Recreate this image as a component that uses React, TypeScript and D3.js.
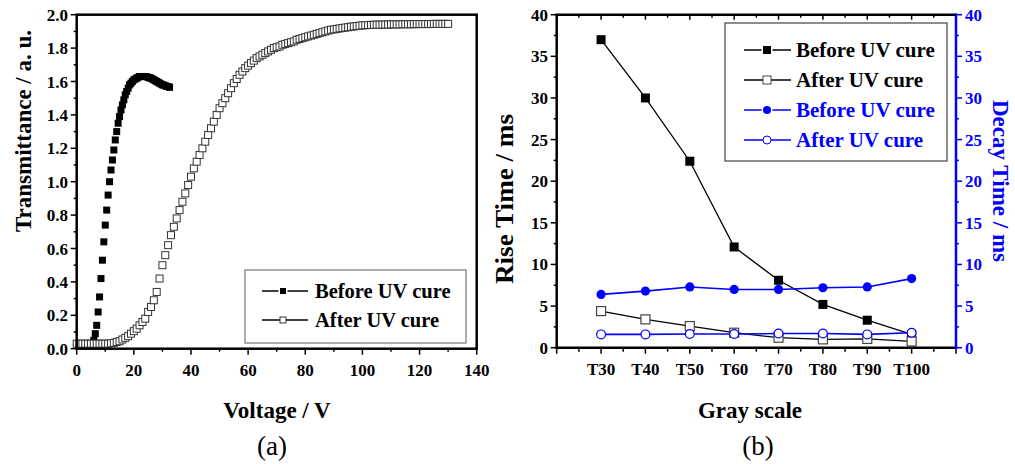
import React from 'react'
import * as d3 from 'd3'

const W = 1015
const H = 464
const FONT = '"Liberation Serif", "Times New Roman", serif'
const BLUE = '#0000ff'

// (a) transmittance vs voltage, [V, T]
const beforeCure: [number, number][] = [
  [0, 0.03], [0.5, 0.03], [1, 0.03], [1.5, 0.03], [2, 0.03], [2.5, 0.03], [3, 0.03], [3.5, 0.03],
  [4, 0.03], [4.5, 0.03], [5, 0.03], [5.5, 0.03], [6, 0.05], [6.5, 0.09], [7, 0.14], [7.5, 0.22],
  [8, 0.31], [8.5, 0.42], [9, 0.53], [9.5, 0.64], [10, 0.74], [10.5, 0.83], [11, 0.92], [11.5, 1.0],
  [12, 1.07], [12.5, 1.13], [13, 1.19], [13.5, 1.25], [14, 1.3], [14.5, 1.35], [15, 1.39], [15.5, 1.43],
  [16, 1.46], [16.5, 1.49], [17, 1.52], [17.5, 1.54], [18, 1.56], [18.5, 1.58], [19, 1.59], [19.5, 1.6],
  [20, 1.61], [20.5, 1.615], [21, 1.62], [21.5, 1.625], [22, 1.63], [22.5, 1.63], [23, 1.63], [23.5, 1.63],
  [24, 1.63], [24.5, 1.628], [25, 1.625], [25.5, 1.622], [26, 1.62], [26.5, 1.615], [27, 1.61], [27.5, 1.605],
  [28, 1.6], [28.5, 1.595], [29, 1.59], [29.5, 1.585], [30, 1.58], [30.5, 1.578], [31, 1.575], [31.5, 1.57],
  [32, 1.57], [32.5, 1.565],
]

const afterCure: [number, number][] = [
  [0, 0.03], [1, 0.03], [2, 0.03], [3, 0.03], [4, 0.03], [5, 0.03], [6, 0.03], [7, 0.03], [8, 0.03],
  [9, 0.03], [10, 0.03], [11, 0.03], [12, 0.032], [13, 0.035], [14, 0.04], [15, 0.045], [16, 0.055],
  [17, 0.065], [18, 0.075], [19, 0.09], [20, 0.105], [21, 0.12], [22, 0.14], [23, 0.16], [24, 0.18],
  [25, 0.22], [26, 0.25], [27, 0.29], [28, 0.34], [29, 0.42], [30, 0.5], [31, 0.56], [32, 0.62],
  [33, 0.68], [34, 0.73], [35, 0.78], [36, 0.83], [37, 0.88], [38, 0.93], [39, 0.98], [40, 1.03],
  [41, 1.08], [42, 1.12], [43, 1.16], [44, 1.2], [45, 1.24], [46, 1.28], [47, 1.32], [48, 1.36],
  [49, 1.4], [50, 1.44], [51, 1.47], [52, 1.5], [53, 1.53], [54, 1.56], [55, 1.59], [56, 1.615],
  [57, 1.64], [58, 1.66], [59, 1.68], [60, 1.695], [61, 1.71], [62, 1.725], [63, 1.74], [64, 1.75],
  [65, 1.76], [66, 1.77], [67, 1.78], [68, 1.79], [69, 1.8], [70, 1.805], [71, 1.81], [72, 1.82],
  [73, 1.825], [74, 1.83], [75, 1.835], [76, 1.84], [77, 1.85], [78, 1.855], [79, 1.86], [80, 1.865],
  [81, 1.87], [82, 1.875], [83, 1.88], [84, 1.885], [85, 1.89], [86, 1.895], [87, 1.9], [88, 1.905],
  [89, 1.91], [90, 1.912], [91, 1.915], [92, 1.918], [93, 1.92], [94, 1.923], [95, 1.925], [96, 1.928],
  [97, 1.93], [98, 1.932], [99, 1.934], [100, 1.936], [101, 1.937], [102, 1.938], [103, 1.939], [104, 1.94],
  [105, 1.94], [106, 1.94], [107, 1.941], [108, 1.941], [109, 1.941], [110, 1.942], [111, 1.942], [112, 1.942],
  [113, 1.942], [114, 1.943], [115, 1.943], [116, 1.943], [117, 1.943], [118, 1.943], [119, 1.944], [120, 1.944],
  [121, 1.944], [122, 1.944], [123, 1.944], [124, 1.944], [125, 1.945], [126, 1.945], [127, 1.945], [128, 1.945],
  [129, 1.945], [130, 1.945],
]

const voltTicks = [0, 20, 40, 60, 80, 100, 120, 140]
const transTicks = [0, 0.2, 0.4, 0.6, 0.8, 1.0, 1.2, 1.4, 1.6, 1.8, 2.0]

// (b) response times per gray level
const grayLevels = ['T30', 'T40', 'T50', 'T60', 'T70', 'T80', 'T90', 'T100']
const riseBefore = [37.0, 30.0, 22.4, 12.1, 8.1, 5.2, 3.3, 1.6]
const riseAfter = [4.4, 3.4, 2.6, 1.8, 1.2, 1.0, 1.05, 0.75]
const decayBefore = [6.4, 6.8, 7.3, 7.0, 7.0, 7.2, 7.3, 8.3]
const decayAfter = [1.6, 1.6, 1.65, 1.65, 1.7, 1.7, 1.6, 1.8]
const timeTicks = [0, 5, 10, 15, 20, 25, 30, 35, 40]

export default function App() {
  const xA = d3.scaleLinear().domain([0, 140]).range([76.7, 476.7])
  const yA = d3.scaleLinear().domain([0, 2]).range([348.7, 14.7])
  const xB = d3.scaleLinear().domain([-1, 8]).range([556.7, 956])
  const yB = d3.scaleLinear().domain([0, 40]).range([347.7, 14.7])
  const lineB = d3.line<number>().x((_, i) => xB(i)).y(d => yB(d))

  const tickTxt = { fontFamily: FONT, fontWeight: 'bold' as const, fontSize: 17 }
  const titleTxt = { fontFamily: FONT, fontWeight: 'bold' as const, fontSize: 23 }
  const legTxt = { fontFamily: FONT, fontWeight: 'bold' as const, fontSize: 20.5 }

  const sqA = 7
  const sqB = 9

  const [a0, a1] = yA.range()
  const [b0, b1] = yB.range()

  return (
    <div style={{ position: 'absolute', left: 0, top: 0 }}>
      <svg width={W} height={H} style={{ display: 'block', background: '#fff' }}>
        {/* ---------- panel (a) ---------- */}
        <g>
          {d3.range(0, 2.001, 0.1).map((t, i) => (
            <line key={'ya' + i} x1={xA(0) - (i % 2 === 0 ? 6 : 3)} x2={xA(0)} y1={yA(t)} y2={yA(t)} stroke="#000" strokeWidth={1.5} />
          ))}
          {d3.range(0, 140.1, 10).map((v, i) => (
            <line key={'xa' + i} x1={xA(v)} x2={xA(v)} y1={a0} y2={a0 + (i % 2 === 0 ? 6 : 3)} stroke="#000" strokeWidth={1.5} />
          ))}
          {transTicks.map(t => (
            <text key={'tl' + t} x={68} y={yA(t) + 6} textAnchor="end" {...tickTxt}>{t.toFixed(1)}</text>
          ))}
          {voltTicks.map(v => (
            <text key={'vl' + v} x={xA(v)} y={376} textAnchor="middle" {...tickTxt}>{v}</text>
          ))}

          {beforeCure.map(([v, t], i) => (
            <rect key={'bc' + i} x={xA(v) - sqA / 2} y={yA(t) - sqA / 2} width={sqA} height={sqA} fill="#000" />
          ))}
          {afterCure.map(([v, t], i) => (
            <rect key={'ac' + i} x={xA(v) - sqA / 2} y={yA(t) - sqA / 2} width={sqA} height={sqA} fill="#fff" stroke="#333" strokeWidth={1} />
          ))}

          <rect x={xA(0)} y={a1} width={xA(140) - xA(0)} height={a0 - a1} fill="none" stroke="#000" strokeWidth={2.5} />

          {/* legend (a) */}
          <rect x={245} y={270} width={221} height={73} fill="#fff" stroke="#777" strokeWidth={1.2} />
          <line x1={262} x2={308} y1={291} y2={291} stroke="#000" strokeWidth={1.5} />
          <rect x={280} y={288} width={6} height={6} fill="#000" stroke="#fff" strokeWidth={3} paintOrder="stroke" />
          <text x={315} y={298} {...legTxt}>Before UV cure</text>
          <line x1={262} x2={308} y1={320} y2={320} stroke="#000" strokeWidth={1.5} />
          <rect x={280} y={317} width={6} height={6} fill="#fff" stroke="#333" strokeWidth={1} />
          <text x={315} y={327} {...legTxt}>After UV cure</text>

          <text transform={`translate(31,131) rotate(-90)`} textAnchor="middle" {...titleTxt}>Transmittance / a. u.</text>
          <text x={277} y={418} textAnchor="middle" {...titleTxt}>Voltage / V</text>
          <text x={272} y={455} textAnchor="middle" fontFamily={FONT} fontSize={27}>(a)</text>
        </g>

        {/* ---------- panel (b) ---------- */}
        <g>
          {d3.range(0, 40.01, 2.5).map((t, i) => (
            <g key={'yb' + i}>
              <line x1={xB(-1) - (i % 2 === 0 ? 6 : 3)} x2={xB(-1)} y1={yB(t)} y2={yB(t)} stroke="#000" strokeWidth={1.5} />
              <line x1={xB(8)} x2={xB(8) + (i % 2 === 0 ? 6 : 3)} y1={yB(t)} y2={yB(t)} stroke={BLUE} strokeWidth={1.5} />
            </g>
          ))}
          {d3.range(-1, 8.01, 0.5).map((k, i) => (
            <g key={'xb' + i}>
              <line x1={xB(k)} x2={xB(k)} y1={b0} y2={b0 + (Number.isInteger(k) ? 6 : 4)} stroke="#000" strokeWidth={1.5} />
              <line x1={xB(k)} x2={xB(k)} y1={b1} y2={b1 + (Number.isInteger(k) ? 5 : 3)} stroke="#000" strokeWidth={1.5} />
            </g>
          ))}
          {timeTicks.map(t => (
            <g key={'tb' + t}>
              <text x={548} y={yB(t) + 6} textAnchor="end" {...tickTxt}>{t}</text>
              <text x={965} y={yB(t) + 6} textAnchor="start" {...tickTxt} fill={BLUE}>{t}</text>
            </g>
          ))}
          {grayLevels.map((g, i) => (
            <text key={g} x={xB(i)} y={375} textAnchor="middle" {...tickTxt}>{g}</text>
          ))}

          <path d={lineB(riseBefore) ?? ''} fill="none" stroke="#000" strokeWidth={1.3} />
          <path d={lineB(riseAfter) ?? ''} fill="none" stroke="#000" strokeWidth={1.3} />
          {riseBefore.map((v, i) => (
            <rect key={'rb' + i} x={xB(i) - sqB / 2} y={yB(v) - sqB / 2} width={sqB} height={sqB} fill="#000" />
          ))}
          {riseAfter.map((v, i) => (
            <rect key={'ra' + i} x={xB(i) - sqB / 2} y={yB(v) - sqB / 2} width={sqB} height={sqB} fill="#fff" stroke="#444" strokeWidth={1.2} />
          ))}
          <path d={lineB(decayBefore) ?? ''} fill="none" stroke={BLUE} strokeWidth={1.6} />
          <path d={lineB(decayAfter) ?? ''} fill="none" stroke={BLUE} strokeWidth={1.6} />
          {decayBefore.map((v, i) => (
            <circle key={'db' + i} cx={xB(i)} cy={yB(v)} r={4.6} fill={BLUE} />
          ))}
          {decayAfter.map((v, i) => (
            <circle key={'da' + i} cx={xB(i)} cy={yB(v)} r={4.4} fill="#fff" stroke={BLUE} strokeWidth={1.2} />
          ))}

          <line x1={xB(-1)} x2={xB(-1)} y1={b0} y2={b1} stroke="#000" strokeWidth={2.5} />
          <line x1={xB(-1) - 1.25} x2={xB(8)} y1={b0} y2={b0} stroke="#000" strokeWidth={2.5} />
          <line x1={xB(-1) - 1.25} x2={xB(8)} y1={b1} y2={b1} stroke="#000" strokeWidth={2.5} />
          <line x1={xB(8)} x2={xB(8)} y1={b0 + 1.25} y2={b1 - 1.25} stroke={BLUE} strokeWidth={2.5} />

          {/* legend (b) */}
          <rect x={725} y={23} width={222} height={138} fill="#fff" stroke="#444" strokeWidth={1.2} />
          <line x1={744} x2={791} y1={50} y2={50} stroke="#000" strokeWidth={1.5} />
          <rect x={763} y={46} width={8} height={8} fill="#000" stroke="#fff" strokeWidth={3} paintOrder="stroke" />
          <text x={796} y={57} {...legTxt} fontSize={21}>Before UV cure</text>
          <line x1={744} x2={791} y1={80} y2={80} stroke="#000" strokeWidth={1.5} />
          <rect x={763} y={76} width={8} height={8} fill="#fff" stroke="#444" strokeWidth={1} />
          <text x={796} y={87} {...legTxt} fontSize={21}>After UV cure</text>
          <line x1={744} x2={791} y1={110} y2={110} stroke={BLUE} strokeWidth={1.5} />
          <circle cx={767} cy={110} r={4} fill={BLUE} stroke="#fff" strokeWidth={3} paintOrder="stroke" />
          <text x={796} y={117} {...legTxt} fontSize={21} fill={BLUE}>Before UV cure</text>
          <line x1={744} x2={791} y1={140} y2={140} stroke={BLUE} strokeWidth={1.5} />
          <circle cx={767} cy={140} r={4} fill="#fff" stroke={BLUE} strokeWidth={1} />
          <text x={796} y={147} {...legTxt} fontSize={21} fill={BLUE}>After UV cure</text>

          <text transform={`translate(513,199) rotate(-90)`} textAnchor="middle" {...titleTxt} fontSize={25} textLength={170} lengthAdjust="spacingAndGlyphs">Rise Time / ms</text>
          <text transform={`translate(993,181) rotate(90)`} textAnchor="middle" {...titleTxt} fill={BLUE}>Decay Time / ms</text>
          <text x={750} y={418} textAnchor="middle" {...titleTxt}>Gray scale</text>
          <text x={758} y={455} textAnchor="middle" fontFamily={FONT} fontSize={27}>(b)</text>
        </g>
      </svg>
    </div>
  )
}
